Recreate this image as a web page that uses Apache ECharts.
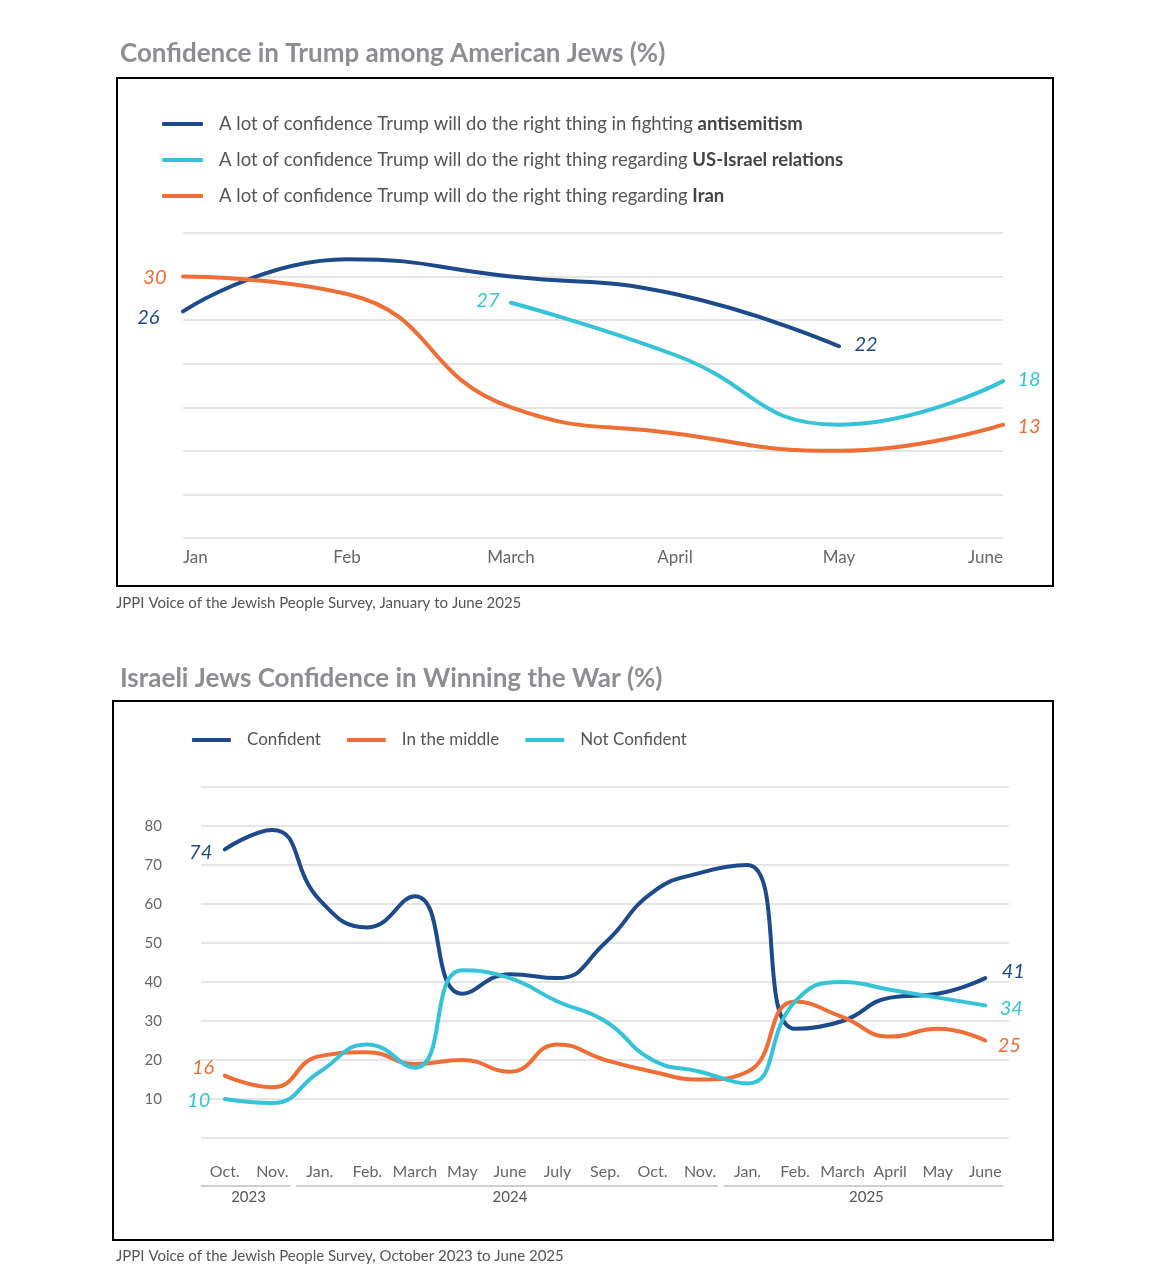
<!DOCTYPE html>
<html>
<head>
<meta charset="utf-8">
<script src="https://cdn.jsdelivr.net/npm/echarts@6/dist/echarts.min.js"></script>
<style>
html,body{margin:0;padding:0;background:#fff;}
#c{width:1172px;height:1280px;}
</style>
</head>
<body>
<div id="c"></div>
<script>
// ---------- DATA ----------
const topTitle = 'Confidence in Trump among American Jews (%)';
const topSource = 'JPPI Voice of the Jewish People Survey, January to June 2025';
const topMonths = ['Jan', 'Feb', 'March', 'April', 'May', 'June'];
const topKeys = ['antisemitism', 'usIsrael', 'iran'];
const topLegendPrefix = [
  'A lot of confidence Trump will do the right thing in fighting ',
  'A lot of confidence Trump will do the right thing regarding ',
  'A lot of confidence Trump will do the right thing regarding '
];
const topLegendBold = ['antisemitism', 'US-Israel relations', 'Iran'];
const antisemitism = [26, 32, 30, 28, 22, null];
const usIsrael = [null, null, 27, 21, 13, 18];
const iran = [30, 28, 15, 12, 10, 13];

const warTitle = 'Israeli Jews Confidence in Winning the War (%)';
const warSource = 'JPPI Voice of the Jewish People Survey, October 2023 to June 2025';
const warMonths = ['Oct.', 'Nov.', 'Jan.', 'Feb.', 'March', 'May', 'June', 'July', 'Sep.', 'Oct.', 'Nov.',
                   'Jan.', 'Feb.', 'March', 'April', 'May', 'June'];
const warYears = ['2023', '2024', '2025'];
const warYearSpans = [[0, 1], [2, 10], [11, 16]];
const warNames = ['Confident', 'In the middle', 'Not Confident'];
const confident = [74, 79, 61, 54, 62, 37, 42, 41, 50, 63, 68, 70, 28, 30, 36, 37, 41];
const inMiddle = [16, 13, 21, 22, 19, 20, 17, 24, 20, 17, 15, 17, 35, 31, 26, 28, 25];
const notConfident = [10, 9, 17, 24, 18, 43, 41, 35, 30, 20, 17, 14, 35, 40, 38, 36, 34];

// ---------- STYLE ----------
const BLUE = '#1d4a8b', CYAN = '#34c3d7', ORANGE = '#ee6e36';
const FONT = 'Lato, "Open Sans", sans-serif';
const HAND = 'Lato, sans-serif';
const GRID_LINE = {lineStyle: {color: '#dcdcdc', width: 1.5}};

function endLabels(values, color, startCfg, endCfg) {
  let first = values.findIndex(v => v != null);
  let last = values.length - 1;
  while (values[last] == null) last--;
  return values.map((v, i) => {
    if (v == null) return null;
    const cfg = i === first ? startCfg : (i === last ? endCfg : null);
    if (!cfg) return v;
    return {value: v, label: Object.assign({
      show: true, formatter: '{c}', color: color, fontFamily: HAND,
      fontStyle: 'italic', fontSize: 20
    }, cfg)};
  });
}

function lineSeries(name, values, color, xi, yi, startCfg, endCfg) {
  return {
    name: name, type: 'line', xAxisIndex: xi, yAxisIndex: yi,
    data: endLabels(values, color, startCfg, endCfg),
    smooth: 0.5, showSymbol: true, symbol: 'circle', symbolSize: 1, connectNulls: false,
    lineStyle: {color: color, width: 4, cap: 'round'},
    itemStyle: {color: color},
    label: {show: false},
    emphasis: {disabled: true},
    z: 3
  };
}

const chart = echarts.init(document.getElementById('c'), null, {renderer: 'canvas'});

const option = {
  backgroundColor: '#fff',
  animation: false,
  title: [
    {text: topTitle, left: 120, top: 41, padding: 0, textStyle: {fontFamily: FONT, fontSize: 26, fontWeight: 'bold', color: '#8d8d92'}},
    {text: warTitle, left: 120, top: 666, padding: 0, textStyle: {fontFamily: FONT, fontSize: 26, fontWeight: 'bold', color: '#8d8d92'}}
  ],
  legend: [
    {
      orient: 'vertical', left: 162, top: 113, padding: 0, itemWidth: 41, itemHeight: 4, itemGap: 14,
      icon: 'roundRect',
      data: topKeys,
      formatter: function (name) {
        const i = topKeys.indexOf(name);
        return topLegendPrefix[i] + '{b|' + topLegendBold[i] + '}';
      },
      textStyle: {
        fontFamily: FONT, fontSize: 18.5, color: '#555', lineHeight: 22, padding: [0, 0, 0, 11],
        rich: {b: {fontFamily: FONT, fontSize: 18.5, fontWeight: 'bold', color: '#444'}}
      },
      selectedMode: false
    },
    {
      orient: 'horizontal', left: 192, top: 729, padding: 0, itemWidth: 39, itemHeight: 4, itemGap: 26,
      icon: 'roundRect',
      data: warNames,
      textStyle: {fontFamily: FONT, fontSize: 17, color: '#555', lineHeight: 22, padding: [0, 0, 0, 11]},
      selectedMode: false
    }
  ],
  grid: [
    {left: 183, right: 169, top: 233, height: 305},
    {left: 201, right: 163, top: 787, height: 351}
  ],
  xAxis: [
    {
      gridIndex: 0, type: 'category', data: topMonths, boundaryGap: false,
      axisLine: {show: false}, axisTick: {show: false},
      axisLabel: {color: '#666', fontFamily: FONT, fontSize: 17, margin: 11,
                  alignMinLabel: 'left', alignMaxLabel: 'right'},
      splitLine: {show: false}
    },
    {
      gridIndex: 1, type: 'category', data: warMonths, boundaryGap: true,
      axisLine: {show: false}, axisTick: {show: false},
      axisLabel: {color: '#666', fontFamily: FONT, fontSize: 16, margin: 26, interval: 0},
      splitLine: {show: false}
    }
  ],
  yAxis: [
    {
      gridIndex: 0, type: 'value', min: 0, max: 35, interval: 5,
      axisLabel: {show: false}, axisLine: {show: false}, axisTick: {show: false},
      splitLine: GRID_LINE
    },
    {
      gridIndex: 1, type: 'value', min: 0, max: 90, interval: 10,
      axisLine: {show: false}, axisTick: {show: false},
      axisLabel: {
        color: '#666', fontFamily: FONT, fontSize: 15, margin: 39,
        formatter: v => (v === 0 || v === 90) ? '' : String(v)
      },
      splitLine: GRID_LINE
    }
  ],
  series: [
    lineSeries('antisemitism', antisemitism, BLUE, 0, 0,
      {position: 'left', distance: 23, offset: [0, 6]},
      {position: 'right', distance: 15, offset: [0, -2]}),
    lineSeries('usIsrael', usIsrael, CYAN, 0, 0,
      {position: 'left', distance: 11, offset: [0, -2]},
      {position: 'right', distance: 14, offset: [0, -2]}),
    lineSeries('iran', iran, ORANGE, 0, 0,
      {position: 'left', distance: 16, offset: [0, 1]},
      {position: 'right', distance: 14, offset: [0, 2]}),
    lineSeries('Confident', confident, BLUE, 1, 1,
      {position: 'left', distance: 12, offset: [0, 3]},
      {position: 'right', distance: 16, offset: [0, -7]}),
    lineSeries('In the middle', inMiddle, ORANGE, 1, 1,
      {position: 'left', distance: 10, offset: [0, -8]},
      {position: 'right', distance: 12, offset: [0, 5]}),
    lineSeries('Not Confident', notConfident, CYAN, 1, 1,
      {position: 'left', distance: 14, offset: [0, 2]},
      {position: 'right', distance: 14, offset: [0, 3]})
  ],
  graphic: []
};

chart.setOption(option);

// frames, captions and the year row under the second chart
const g = [
  {type: 'rect', shape: {x: 117, y: 78, width: 936, height: 508}, style: {fill: 'none', stroke: '#000', lineWidth: 2}, silent: true},
  {type: 'rect', shape: {x: 113, y: 701, width: 940, height: 539}, style: {fill: 'none', stroke: '#000', lineWidth: 2}, silent: true},
  {type: 'text', left: 116, top: 596, style: {text: topSource, font: '15px ' + FONT, fill: '#555'}, silent: true},
  {type: 'text', left: 116, top: 1249, style: {text: warSource, font: '15px ' + FONT, fill: '#555'}, silent: true}
];
const baseY = chart.convertToPixel({yAxisIndex: 1}, 0);
warYearSpans.forEach((span, k) => {
  const x0 = chart.convertToPixel({xAxisIndex: 1}, span[0]);
  const x1 = chart.convertToPixel({xAxisIndex: 1}, span[1]);
  g.push({type: 'line', shape: {x1: x0 - 24, y1: baseY + 48, x2: x1 + 18, y2: baseY + 48},
          style: {stroke: '#cfcfcf', lineWidth: 2}, silent: true});
  g.push({type: 'text', x: (x0 + x1) / 2, y: baseY + 59,
          style: {text: warYears[k], font: '15px ' + FONT, fill: '#555', align: 'center', verticalAlign: 'middle'}, silent: true});
});
chart.setOption({graphic: g});
</script>
</body>
</html>
